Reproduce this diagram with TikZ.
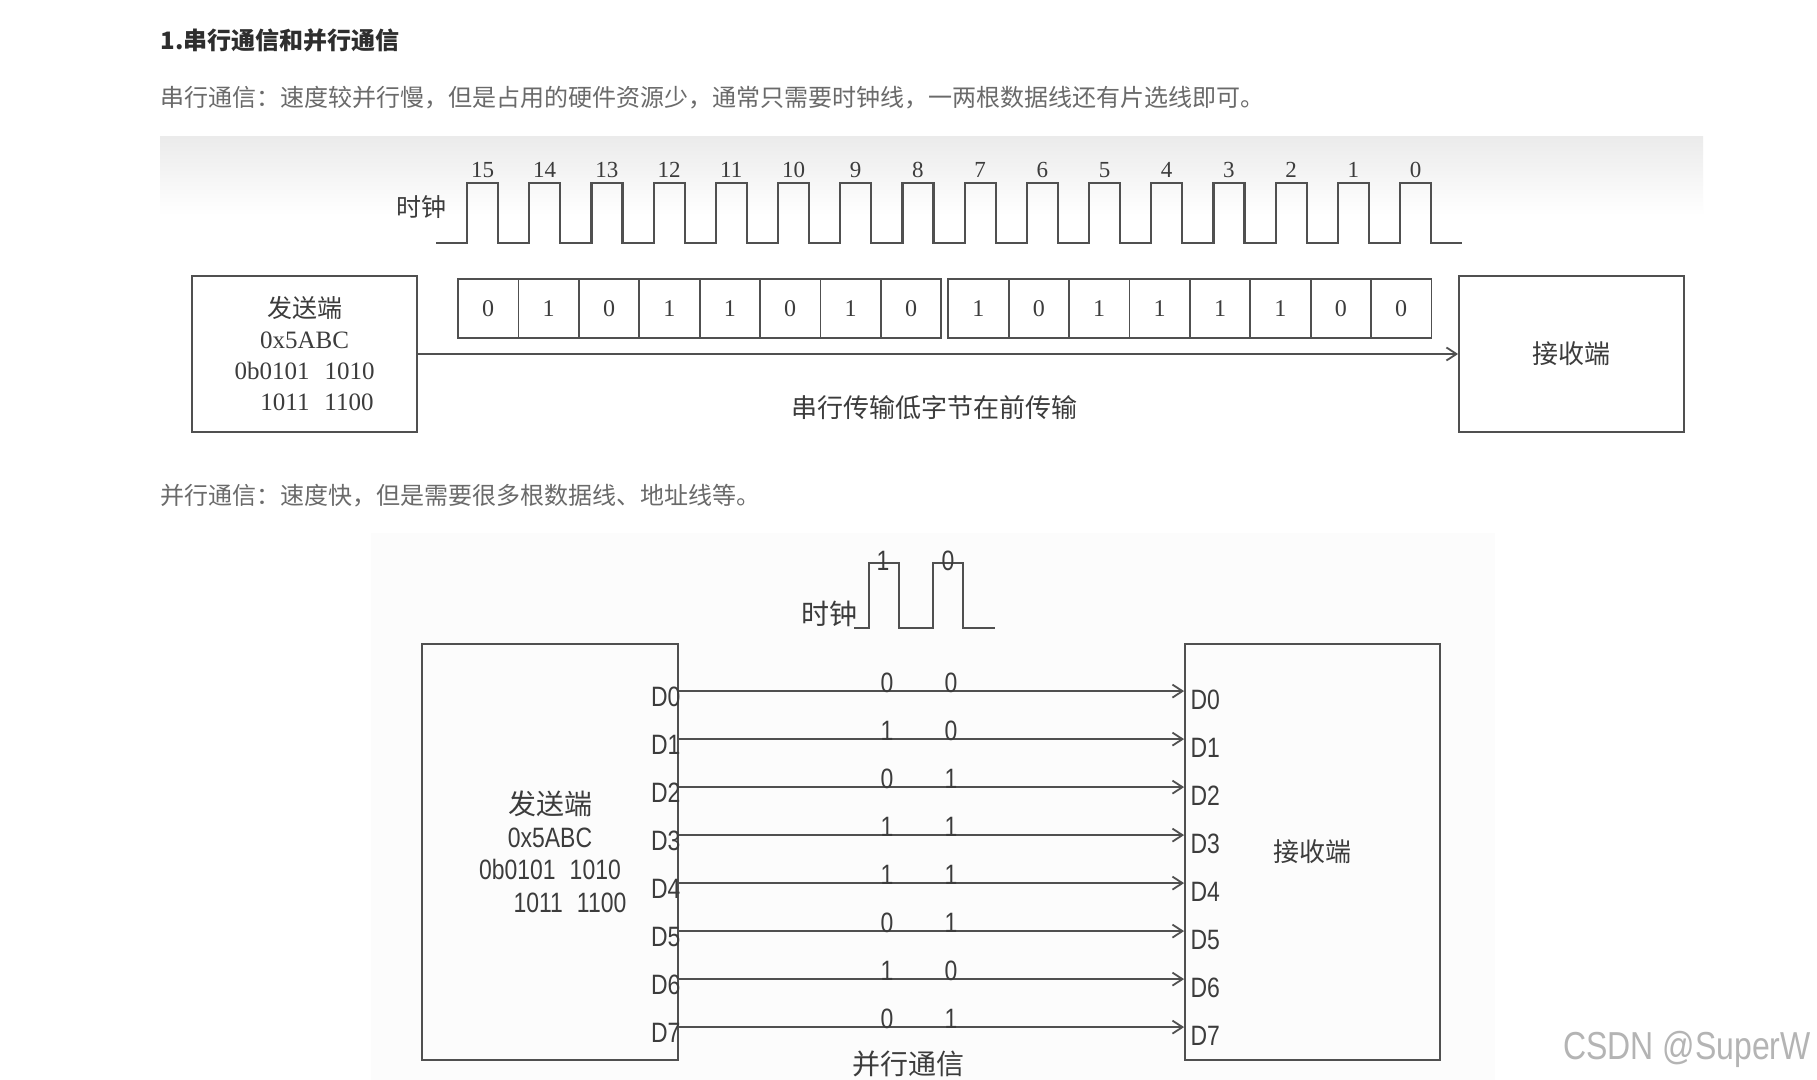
\documentclass[tikz,border=0pt]{standalone}
\usepackage{fontspec}
\setmainfont{Liberation Serif}
\newfontfamily\cjk{Noto Sans CJK SC}
\newfontfamily\narrowsans[FakeStretch=0.82]{Liberation Sans}
\usetikzlibrary{positioning, arrows.meta, calc}
\usepackage{xcolor}
\definecolor{txgray}{HTML}{6A6A6A}
\definecolor{hdgray}{HTML}{2E2E2E}
\definecolor{dggray}{HTML}{3C3C3C}
\definecolor{lngray}{HTML}{505050}
\definecolor{bggray}{HTML}{EBEBEB}
\definecolor{wmgray}{HTML}{B4B4B4}

\begin{document}
\begin{tikzpicture}[x=0.5pt, y=-0.5pt,
    box/.style={draw=lngray, line width=0.9pt, inner sep=0pt, align=center, text=dggray},
    bitcell/.style={draw=lngray, line width=0.9pt, minimum width=30.2pt, minimum height=29.5pt,
      inner sep=0pt, text=dggray, font=\fontsize{12}{14}\selectfont},
    wave/.style={lngray, line width=1.1pt},
    conn/.style={lngray, line width=0.9pt, -{Straight Barb[length=5pt, width=6.5pt]}},
    cn/.style={font=\cjk\fontsize{#1}{#1}\selectfont},
    dlabel/.style={inner sep=0pt, text=dggray, font=\narrowsans\fontsize{14}{14}\selectfont}]
    \useasboundingbox (0,0) rectangle (1817,1080);
    \fill[white] (0,0) rectangle (1817,1080);
    % faint backgrounds of the two screenshots
    \shade[top color=bggray, bottom color=white] (160,137) rectangle (1703,215);
    \fill[black!1] (371,533) rectangle (1495,1080);

    % header text
    \node[anchor=west, inner sep=0pt, text=hdgray, font=\cjk\bfseries\fontsize{12}{12}\selectfont] (title) at (160,40) {1.串行通信和并行通信};
    \node[cn=12, anchor=west, inner sep=0pt, text=txgray] (serdesc) at (160,98) {串行通信：速度较并行慢，但是占用的硬件资源少，通常只需要时钟线，一两根数据线还有片选线即可。};

    % serial: clock
    \node[cn=12.5, text=dggray] (sclk) at (421,207) {时钟};
    \draw[wave] (436,243) foreach \k in {0,...,15} { -- ({467+62.2*\k},243) -- ({467+62.2*\k},183) -- ({498+62.2*\k},183) -- ({498+62.2*\k},243) } -- (1462,243);
    \foreach \k in {0,...,15} {
      \pgfmathtruncatemacro\bitno{15-\k}
      \node[anchor=base, inner sep=0pt, text=dggray, font=\fontsize{11.5}{12}\selectfont] (sn\bitno) at ({482.5+62.2*\k},178) {\bitno};
    }

    % serial: sender, receiver, bits
    \node[box, minimum width=112.5pt, minimum height=78pt, font=\fontsize{12.5}{15.5}\selectfont] (stx) at (304.5,354)
      {{\cjk 发送端}\\0x5ABC\\0b0101\hspace{0.6em}1010\\\hphantom{0b}1011\hspace{0.6em}1100};
    \node[box, cn=13, minimum width=112.5pt, minimum height=78pt] (srx) at (1571.5,354) {接收端};
    \foreach \b [count=\i from 0] in {0,1,0,1,1,0,1,0,1,0,1,1,1,1,0,0} {
      \pgfmathsetmacro\cx{488.2+60.4*\i+(\i>7?7:0)}
      \node[bitcell] (bit\i) at (\cx,308.5) {\b};
    }
    \draw[conn] (stx) -- (srx);
    \node[cn=13, text=dggray] (snote) at (934,408) {串行传输低字节在前传输};

    \node[cn=12, anchor=west, inner sep=0pt, text=txgray] (pardesc) at (160,496) {并行通信：速度快，但是需要很多根数据线、地址线等。};

    % parallel: clock
    \node[cn=14, text=dggray] (pclk) at (829,614) {时钟};
    \draw[wave, line width=0.9pt] (854,628) -- (869,628) -- (869,563) -- (899,563) -- (899,628) -- (933,628) -- (933,563) -- (963,563) -- (963,628) -- (995,628);
    \node[dlabel] (pc1) at (883,561) {1};
    \node[dlabel] (pc0) at (948,561) {0};

    % parallel: sender, receiver, data lines
    \node[box, minimum width=128pt, minimum height=208pt, font=\narrowsans\fontsize{14}{16.3}\selectfont] (ptx) at (550,852)
      {{\cjk 发送端}\\0x5ABC\\0b0101\hspace{0.5em}1010\\\hspace*{20pt}1011\hspace{0.5em}1100};
    \node[box, cn=13, minimum width=127.5pt, minimum height=208pt] (prx) at (1312.5,852) {接收端};
    \foreach \i/\hi/\lo in {0/0/0,1/1/0,2/0/1,3/1/1,4/1/1,5/0/1,6/1/0,7/0/1} {
      \coordinate (ps\i) at ($(ptx.north east)+(0,{48*(\i+1)})$);
      \coordinate (pr\i) at ($(prx.north west)+(0,{48*(\i+1)})$);
      \draw[conn] (ps\i) -- (pr\i);
      \node[dlabel, anchor=east] (pd\i) at ([xshift=1pt, yshift=-3pt]ps\i) {D\i};
      \node[dlabel, anchor=west] (rd\i) at ([xshift=3pt, yshift=-4.5pt]pr\i) {D\i};
      \path (ps\i) ++(208,1) node[dlabel, anchor=base] (ph\i) {\hi};
      \path (ps\i) ++(272,1) node[dlabel, anchor=base] (pl\i) {\lo};
    }
    \node[cn=14, text=dggray] (pnote) at (908,1064) {并行通信};

    \node[text=wmgray, font=\narrowsans\fontsize{19.5}{20}\selectfont] (wmark) at (1687,1049) {CSDN @SuperW};
\end{tikzpicture}
\end{document}
